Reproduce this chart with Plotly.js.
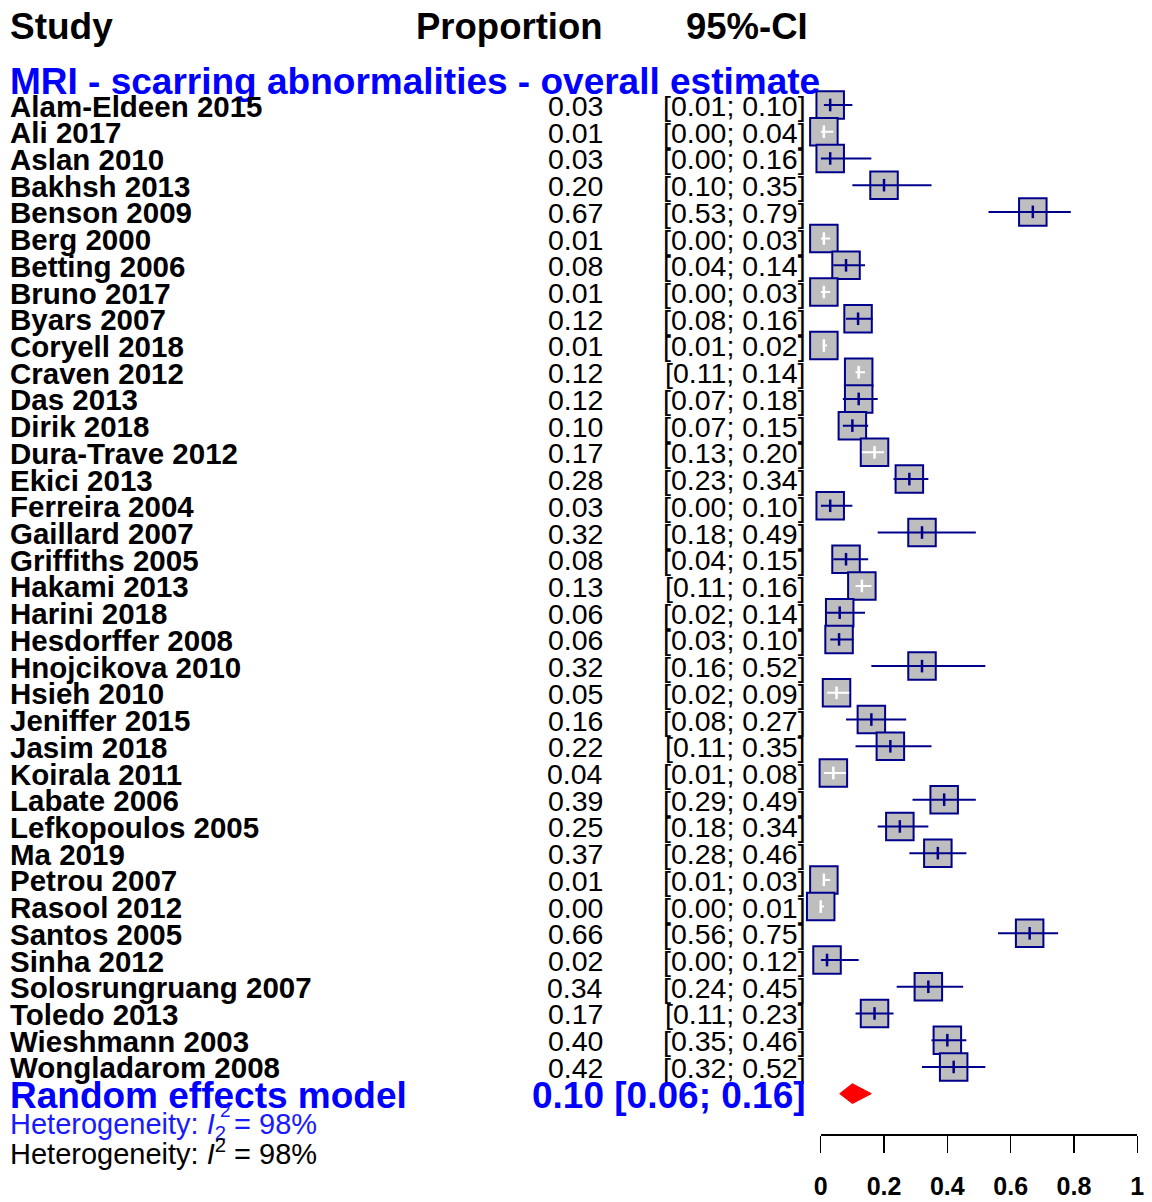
<!DOCTYPE html>
<html>
<head>
<meta charset="utf-8">
<script src="https://cdn.plot.ly/plotly-3.0.1.min.js"></script>
<style>html,body{margin:0;padding:0;background:#fff;}#chart{width:1152px;height:1202px;}</style>
</head>
<body>
<div id="chart"></div>
<script>
// ---------------- data ----------------
const studies = ["Alam-Eldeen 2015","Ali 2017","Aslan 2010","Bakhsh 2013","Benson 2009","Berg 2000","Betting 2006","Bruno 2017","Byars 2007","Coryell 2018","Craven 2012","Das 2013","Dirik 2018","Dura-Trave 2012","Ekici 2013","Ferreira 2004","Gaillard 2007","Griffiths 2005","Hakami 2013","Harini 2018","Hesdorffer 2008","Hnojcikova 2010","Hsieh 2010","Jeniffer 2015","Jasim 2018","Koirala 2011","Labate 2006","Lefkopoulos 2005","Ma 2019","Petrou 2007","Rasool 2012","Santos 2005","Sinha 2012","Solosrungruang 2007","Toledo 2013","Wieshmann 2003","Wongladarom 2008"];
const proportion = [0.03,0.01,0.03,0.20,0.67,0.01,0.08,0.01,0.118,0.01,0.12,0.12,0.10,0.17,0.28,0.03,0.32,0.08,0.13,0.06,0.058,0.32,0.05,0.16,0.22,0.04,0.39,0.25,0.37,0.01,0.00,0.66,0.02,0.34,0.17,0.40,0.42];
const lower = [0.01,0.00,0.00,0.10,0.53,0.00,0.04,0.00,0.08,0.01,0.11,0.07,0.07,0.13,0.23,0.00,0.18,0.04,0.11,0.02,0.03,0.16,0.02,0.08,0.11,0.01,0.29,0.18,0.28,0.01,0.00,0.56,0.00,0.24,0.11,0.35,0.32];
const upper = [0.10,0.04,0.16,0.35,0.79,0.03,0.14,0.03,0.164,0.02,0.14,0.18,0.15,0.20,0.34,0.10,0.49,0.15,0.16,0.14,0.104,0.52,0.09,0.27,0.35,0.08,0.49,0.34,0.46,0.03,0.01,0.75,0.12,0.45,0.23,0.46,0.52];
const pooled = {est: 0.10, lower: 0.06, upper: 0.16};
const i2Text = "98%";
const tickVals = [0, 0.2, 0.4, 0.6, 0.8, 1];
const tickText = ["0", "0.2", "0.4", "0.6", "0.8", "1"];
const subgroupTitle = "MRI - scarring abnormalities - overall estimate";

// ---------------- geometry / style ----------------
const W = 1152, H = 1202;
const X0 = 820.7, X1 = 1137.3;          // pixel span of the 0..1 axis
const axisLen = X1 - X0;
const ROW0 = 105, ROWH = 26.72;          // pixel centre of first row, row height
const yTop = -ROW0 / ROWH;
const yBot = yTop + H / ROWH;
const SQ = 27.5;                          // square marker size (px)
const SQ_INNER_HALF = 13.25;              // half of the square interior (px)
const NAVY = "#00008B";
const FONT = "Liberation Sans, Arial, sans-serif";
const n = studies.length;
const rows = studies.map((_, i) => i);
const reRow = n;                          // random-effects row index

const half = SQ_INNER_HALF / axisLen;
const inside = rows.map(i => (proportion[i] - lower[i] < half) && (upper[i] - proportion[i] < half));

const ciNavyX = [], ciNavyY = [], ciWhiteX = [], ciWhiteY = [];
rows.forEach(i => {
  const tx = inside[i] ? ciWhiteX : ciNavyX;
  const ty = inside[i] ? ciWhiteY : ciNavyY;
  tx.push(lower[i], upper[i], null);
  ty.push(i, i, null);
});
const outRows = rows.filter(i => !inside[i]);
const inRows = rows.filter(i => inside[i]);

const traces = [
  { type: "scatter", mode: "markers", x: proportion, y: rows, cliponaxis: false, hoverinfo: "skip",
    marker: { symbol: "square", size: SQ, color: "#BEBEBE", line: { color: NAVY, width: 2 } } },
  { type: "scatter", mode: "lines", x: ciNavyX, y: ciNavyY, cliponaxis: false, hoverinfo: "skip",
    line: { color: NAVY, width: 2 } },
  { type: "scatter", mode: "lines", x: ciWhiteX, y: ciWhiteY, cliponaxis: false, hoverinfo: "skip",
    line: { color: "#FFFFFF", width: 2 } },
  { type: "scatter", mode: "markers", x: outRows.map(i => proportion[i]), y: outRows,
    cliponaxis: false, hoverinfo: "skip",
    marker: { symbol: "line-ns-open", size: 9, color: NAVY, line: { color: NAVY, width: 2.5 } } },
  { type: "scatter", mode: "markers", x: inRows.map(i => proportion[i]), y: inRows,
    cliponaxis: false, hoverinfo: "skip",
    marker: { symbol: "line-ns-open", size: 9, color: "#FFFFFF", line: { color: "#FFFFFF", width: 2.5 } } },
  { type: "scatter", mode: "lines", fill: "toself", fillcolor: "#FF0000", cliponaxis: false, hoverinfo: "skip",
    x: [pooled.lower, pooled.est, pooled.upper, pooled.est, pooled.lower],
    y: [reRow, reRow - 0.37, reRow, reRow + 0.37, reRow],
    line: { color: "#FF0000", width: 1 } }
];

const annotations = [];
function ann(text, xpx, y, yref, xanchor, size, color, weight, yshift) {
  annotations.push({ text: text, x: xpx / W, xref: "paper", y: y, yref: yref,
    xanchor: xanchor, yanchor: "middle", showarrow: false, yshift: yshift || 0,
    font: { family: FONT, size: size, color: color, weight: weight } });
}
// headers
ann("Study", 8, 1 - 27 / H, "paper", "left", 37, "#000", "bold", 0);
ann("Proportion", 605, 1 - 27 / H, "paper", "right", 36.5, "#000", "bold", 0);
ann("95%-CI", 810, 1 - 27 / H, "paper", "right", 36.5, "#000", "bold", 0);
ann(subgroupTitle, 8, 1 - 82 / H, "paper", "left", 37, "#0000FF", "bold", 0);
// rows
rows.forEach(i => {
  ann(studies[i], 8, i, "y", "left", 29.5, "#000", "bold", -1);
  ann(proportion[i].toFixed(2), 605, i, "y", "right", 28.5, "#000", "normal", -1);
  ann("[" + lower[i].toFixed(2) + "; " + upper[i].toFixed(2) + "]", 808, i, "y", "right", 28.5, "#000", "normal", -1);
});
// random-effects summary
ann("Random effects model", 8, reRow, "y", "left", 37, "#0000FF", "bold", -2);
ann(pooled.est.toFixed(2) + " [" + pooled.lower.toFixed(2) + "; " + pooled.upper.toFixed(2) + "]", 808, reRow, "y", "right", 37, "#0000FF", "bold", -2);
ann("Heterogeneity: <i>I</i><sub>2</sub> = " + i2Text, 8, 1 - 1126 / H, "paper", "left", 29, "#1a1aff", "normal", 0);
ann("2", 218, 1 - 1110 / H, "paper", "left", 19, "#1a1aff", "normal", 0);
ann("Heterogeneity: <i>I</i><sup>2</sup> = " + i2Text, 8, 1 - 1152 / H, "paper", "left", 29, "#000", "normal", 0);

const layout = {
  width: W, height: H,
  margin: { l: 0, r: 0, t: 0, b: 0 },
  paper_bgcolor: "#fff", plot_bgcolor: "rgba(0,0,0,0)",
  showlegend: false,
  xaxis: {
    domain: [X0 / W, X1 / W], range: [0, 1], anchor: "free", position: (H - 1134) / H,
    side: "bottom", showgrid: false, zeroline: false, showline: true, linecolor: "#000", linewidth: 1.5,
    ticks: "outside", ticklen: 17, tickwidth: 1.5, tickcolor: "#000",
    tickmode: "array", tickvals: tickVals, ticktext: tickText, ticklabelstandoff: 12,
    tickfont: { family: FONT, size: 25, color: "#000", weight: "bold" }, fixedrange: true
  },
  yaxis: { range: [yBot, yTop], domain: [0, 1], visible: false, showgrid: false, zeroline: false, fixedrange: true },
  annotations: annotations
};

Plotly.newPlot("chart", traces, layout, { staticPlot: true, displayModeBar: false });
</script>
</body>
</html>
